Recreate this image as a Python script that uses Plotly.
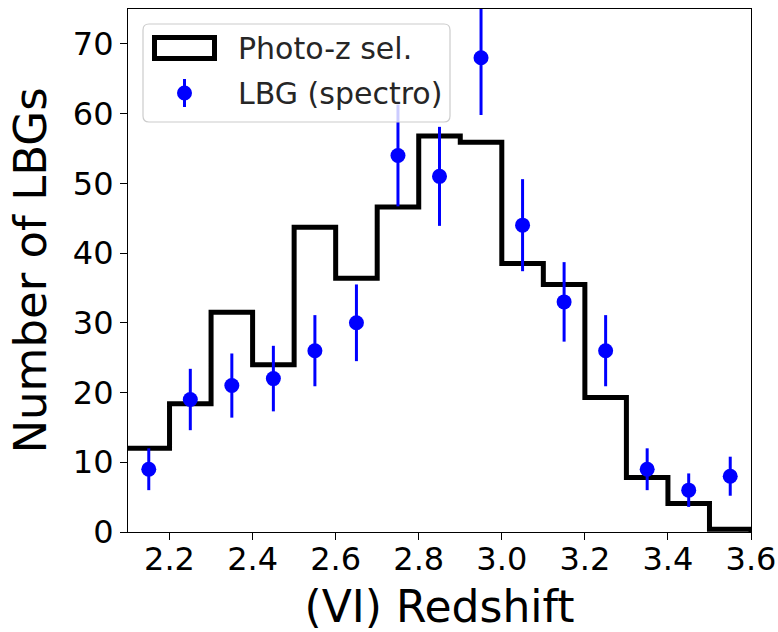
import plotly.graph_objects as go

# ---- data ----
bin_edges = [2.1, 2.2, 2.3, 2.4, 2.5, 2.6, 2.7, 2.8, 2.9, 3.0, 3.1, 3.2, 3.3, 3.4, 3.5, 3.6]
photoz_counts = [12.0, 18.4, 31.5, 24.0, 43.7, 36.4, 46.6, 56.8, 55.9, 38.5, 35.5, 19.3, 7.8, 4.1, 0.4]

spec_z = [2.15, 2.25, 2.35, 2.45, 2.55, 2.65, 2.75, 2.85, 2.95, 3.05, 3.15, 3.25, 3.35, 3.45, 3.55]
spec_counts = [9, 19, 21, 22, 26, 30, 54, 51, 68, 44, 33, 26, 9, 6, 8]
spec_err = [3.0, 4.4, 4.6, 4.7, 5.1, 5.5, 7.3, 7.1, 8.2, 6.6, 5.7, 5.1, 3.0, 2.4, 2.8]

x_ticks = [2.2, 2.4, 2.6, 2.8, 3.0, 3.2, 3.4, 3.6]
y_ticks = [0, 10, 20, 30, 40, 50, 60, 70]

FONT = "DejaVu Sans"
W, H = 778, 632
ML, MR, MT, MB = 128, 27, 9, 100
PW, PH = W - ML - MR, H - MT - MB

def px_x(p):
    return (p - ML) / PW

def px_y(p):
    return (H - MB - p) / PH

fig = go.Figure()

# step histogram
step_x = bin_edges
step_y = photoz_counts + [0]
fig.add_trace(go.Scatter(
    x=step_x, y=step_y, mode="lines", line=dict(shape="hv", color="black", width=5),
    showlegend=False, hoverinfo="skip"))

# spectroscopic points with error bars
fig.add_trace(go.Scatter(
    x=spec_z, y=spec_counts, mode="markers",
    marker=dict(color="#0000ff", size=15),
    error_y=dict(type="data", array=spec_err, color="#0000ff", thickness=3, width=0),
    showlegend=False))

# ---- manual legend (matplotlib style) ----
lx0, lx1, ly0, ly1 = px_x(143), px_x(450), px_y(122), px_y(24)
rx, ry = 6 / PW, 6 / PH
path = (f"M {lx0+rx},{ly0} L {lx1-rx},{ly0} Q {lx1},{ly0} {lx1},{ly0+ry} "
        f"L {lx1},{ly1-ry} Q {lx1},{ly1} {lx1-rx},{ly1} L {lx0+rx},{ly1} "
        f"Q {lx0},{ly1} {lx0},{ly1-ry} L {lx0},{ly0+ry} Q {lx0},{ly0} {lx0+rx},{ly0} Z")
shapes = [
    dict(type="path", path=path, xref="paper", yref="paper",
         line=dict(color="rgba(204,204,204,1)", width=1.2), fillcolor="rgba(255,255,255,0.8)", layer="above"),
    dict(type="rect", xref="paper", yref="paper",
         x0=px_x(154.5), x1=px_x(214.5), y0=px_y(58.5), y1=px_y(37.5),
         line=dict(color="black", width=5), fillcolor="white", layer="above"),
    dict(type="line", xref="paper", yref="paper", xsizemode="pixel", ysizemode="pixel",
         xanchor=px_x(184.5), yanchor=px_y(93), x0=0, x1=0, y0=-14, y1=14,
         line=dict(color="#0000ff", width=3), layer="above"),
    dict(type="circle", xref="paper", yref="paper", xsizemode="pixel", ysizemode="pixel",
         xanchor=px_x(184.5), yanchor=px_y(93), x0=-7.5, x1=7.5, y0=-7.5, y1=7.5,
         line=dict(color="#0000ff", width=0), fillcolor="#0000ff", layer="above"),
]
annotations = [
    dict(text="Photo-z sel.", xref="paper", yref="paper", x=px_x(236), y=px_y(48),
         xanchor="left", yanchor="middle", showarrow=False,
         font=dict(family=FONT, size=30, color="#262626")),
    dict(text="LBG (spectro)", xref="paper", yref="paper", x=px_x(236), y=px_y(93),
         xanchor="left", yanchor="middle", showarrow=False,
         font=dict(family=FONT, size=30, color="#262626")),
]

fig.update_layout(
    width=W, height=H,
    margin=dict(l=ML, r=MR, t=MT, b=MB, pad=0),
    paper_bgcolor="white", plot_bgcolor="white",
    font=dict(family=FONT, color="black"),
    shapes=shapes, annotations=annotations,
    showlegend=False,
)
fig.update_xaxes(
    range=[2.1, 3.6], tickvals=x_ticks, tickformat=".1f",
    ticks="outside", ticklen=7, tickwidth=1.2, tickcolor="black",
    showline=True, linecolor="black", linewidth=1.2, mirror=True,
    showgrid=False, zeroline=False, automargin=False,
    ticklabelstandoff=-9,
    tickfont=dict(family=FONT, size=32, color="black"),
    title=dict(text="(VI) Redshift", font=dict(family=FONT, size=44, color="black"), standoff=14),
)
fig.update_yaxes(
    range=[0, 75], tickvals=y_ticks,
    ticks="outside", ticklen=7, tickwidth=1.2, tickcolor="black",
    showline=True, linecolor="black", linewidth=1.2, mirror=True,
    showgrid=False, zeroline=False, automargin=False,
    tickfont=dict(family=FONT, size=32, color="black"),
    title=dict(text="Number of LBGs", font=dict(family=FONT, size=45, color="black"), standoff=12),
)

fig.write_html("out.html")
